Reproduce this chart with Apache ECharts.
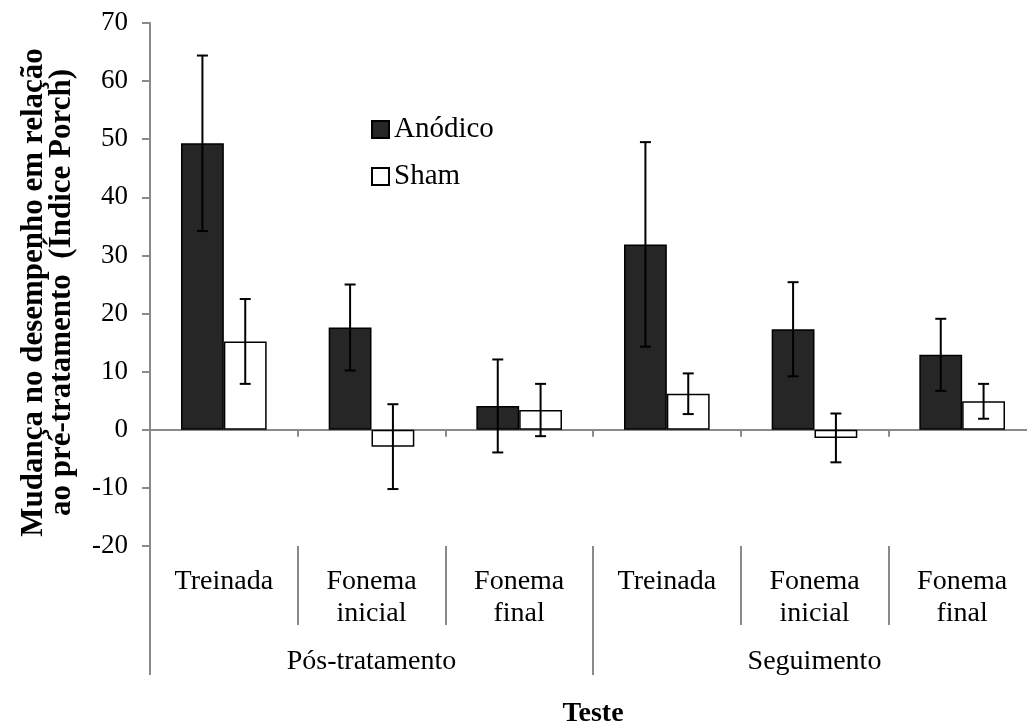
<!DOCTYPE html>
<html>
<head>
<meta charset="utf-8">
<script src="https://cdn.jsdelivr.net/npm/echarts@6/dist/echarts.min.js"></script>
<style>
  html, body { margin: 0; padding: 0; background: #fff; overflow: hidden; }
  #chart { width: 1027px; height: 726px; }
</style>
</head>
<body>
<div id="chart"></div>
<script>
// categorias do eixo x (dois níveis)
var categorias = ['Treinada', 'Fonema\ninicial', 'Fonema\nfinal', 'Treinada', 'Fonema\ninicial', 'Fonema\nfinal'];
var periodos = ['Pós-tratamento', 'Seguimento'];
// médias e erros
var anodico = [49.3, 17.6, 4.1, 31.9, 17.3, 12.9];
var anodicoErro = [15.1, 7.4, 8.0, 17.6, 8.1, 6.2];
var sham = [15.2, -2.9, 3.4, 6.2, -1.4, 4.9];
var shamErro = [7.3, 7.3, 4.5, 3.5, 4.2, 3.0];
// ticks do eixo y
var yTicks = [-20, -10, 0, 10, 20, 30, 40, 50, 60, 70];

var fonte = 'Liberation Serif';
var corEixo = '#8a8a8a';
var larguraBarra = 0.29;

var myChart = echarts.init(document.getElementById('chart'));

// barras de erro desenhadas por cima das colunas
function erroSeries(nome, medias, erros, lado) {
    return {
        type: 'custom',
        name: nome + ' erro',
        xAxisIndex: 0,
        z: 5,
        silent: true,
        data: medias.map(function (v, i) { return [i, v - erros[i], v + erros[i]]; }),
        renderItem: function (params, api) {
            var baixo = api.coord([api.value(0), api.value(1)]);
            var alto = api.coord([api.value(0), api.value(2)]);
            var w = api.size([1, 0])[0];
            var x = baixo[0] + lado * w * larguraBarra / 2;
            var cap = 5.5;
            var estilo = { stroke: '#000', lineWidth: 2 };
            return {
                type: 'group',
                children: [
                    { type: 'line', shape: { x1: x, y1: baixo[1], x2: x, y2: alto[1] }, style: estilo },
                    { type: 'line', shape: { x1: x - cap, y1: alto[1], x2: x + cap, y2: alto[1] }, style: estilo },
                    { type: 'line', shape: { x1: x - cap, y1: baixo[1], x2: x + cap, y2: baixo[1] }, style: estilo }
                ]
            };
        }
    };
}

var option = {
    backgroundColor: '#fff',
    animation: false,
    textStyle: { fontFamily: fonte, color: '#000' },
    legend: {
        orient: 'vertical',
        left: 366,
        top: 110,
        itemWidth: 17,
        itemHeight: 17,
        itemGap: 18,
        icon: 'rect',
        data: ['Anódico', 'Sham'],
        textStyle: { fontFamily: fonte, fontSize: 29, color: '#000' }
    },
    // a área do gráfico passa um pouco da borda direita, como no original
    grid: { left: 150, right: -9, top: 23, bottom: 180, outerBoundsMode: 'none' },
    xAxis: [
        {
            // linha do zero com marcas entre grupos
            type: 'category',
            data: categorias,
            axisLine: { onZero: true, lineStyle: { color: corEixo, width: 2 } },
            axisTick: { show: true, length: 7, lineStyle: { color: corEixo, width: 2 } },
            axisLabel: { show: false },
            splitLine: { show: false }
        },
        {
            type: 'category',
            data: categorias,
            position: 'bottom',
            axisLine: { show: false, onZero: false },
            axisTick: { show: true, length: 79, lineStyle: { color: corEixo, width: 2 } },
            axisLabel: {
                fontFamily: fonte, fontSize: 28, color: '#000',
                lineHeight: 32, margin: 20
            },
            splitLine: { show: false }
        },
        {
            type: 'category',
            data: periodos,
            position: 'bottom',
            axisLine: { show: false, onZero: false },
            axisTick: { show: true, length: 129, lineStyle: { color: corEixo, width: 2 } },
            axisLabel: { fontFamily: fonte, fontSize: 28, color: '#000', margin: 102 },
            name: 'Teste',
            nameLocation: 'middle',
            nameGap: 154,
            nameTextStyle: { fontFamily: fonte, fontSize: 28, fontWeight: 'bold', color: '#000' },
            splitLine: { show: false }
        }
    ],
    yAxis: {
        type: 'value',
        min: yTicks[0],
        max: yTicks[yTicks.length - 1],
        interval: 10,
        axisLine: { show: true, lineStyle: { color: corEixo, width: 2 } },
        axisTick: { show: true, length: 8, lineStyle: { color: corEixo, width: 2 } },
        axisLabel: { fontFamily: fonte, fontSize: 27, color: '#000', margin: 22 },
        splitLine: { show: false },
        name: 'Mudança no desempenho em relação\nao pré-tratamento  (Índice Porch)',
        nameLocation: 'middle',
        nameRotate: 90,
        nameGap: 74,
        nameTextStyle: {
            fontFamily: fonte, fontSize: 31, fontWeight: 'bold', color: '#000',
            lineHeight: 28, align: 'center', padding: [0, 16, 0, 0]
        }
    },
    series: [
        {
            name: 'Anódico',
            type: 'bar',
            xAxisIndex: 0,
            data: anodico,
            barWidth: (larguraBarra * 100) + '%',
            barGap: '0%',
            itemStyle: { color: '#262626', borderColor: '#000', borderWidth: 1.5 }
        },
        {
            name: 'Sham',
            type: 'bar',
            xAxisIndex: 0,
            data: sham,
            barWidth: (larguraBarra * 100) + '%',
            barGap: '0%',
            itemStyle: { color: '#fff', borderColor: '#000', borderWidth: 1.5 }
        },
        erroSeries('Anódico', anodico, anodicoErro, -1),
        erroSeries('Sham', sham, shamErro, 1)
    ]
};

myChart.setOption(option);
</script>
</body>
</html>
